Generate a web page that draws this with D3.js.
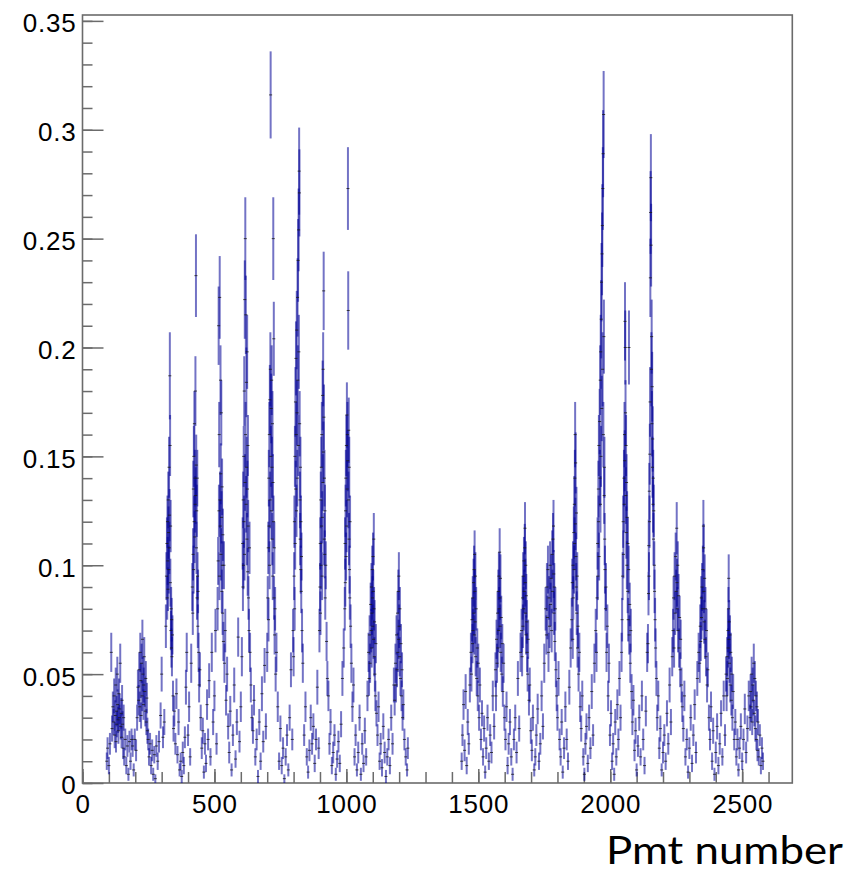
<!DOCTYPE html>
<html>
<head>
<meta charset="utf-8">
<script src="https://cdn.jsdelivr.net/npm/d3@7/dist/d3.min.js"></script>
<style>
  html, body { margin: 0; padding: 0; background: #fff; }
  svg { display: block; }
</style>
</head>
<body>
<svg id="chart" width="851" height="872"></svg>
<script>
// Occupancy per PMT: each ring is a list of [pmt number, occupancy, error]
const ring1 = [[92,.010,.004],[95,.016,.005],[100,.008,.004],[104,.018,.005],[109,.060,.009],[112,.025,.006],[115,.035,.007],[118,.028,.006],[120,.040,.008],[122,.022,.006],[124,.031,.007],[126,.045,.008],[127,.019,.005],[129,.033,.007],[130,.027,.006],[132,.050,.008],[133,.036,.007],[135,.029,.006],[136,.024,.006],[138,.041,.007],[140,.030,.006],[141,.034,.007],[143,.055,.009],[145,.026,.006],[147,.032,.007],[148,.021,.005],[150,.038,.007],[152,.027,.006],[154,.016,.005],[156,.030,.006],[158,.012,.004],[162,.020,.005],[166,.008,.004],[170,.017,.005],[174,.004,.003],[178,.019,.005],[182,.010,.004],[186,.020,.005],[190,.017,.005],[194,.006,.003],[198,.020,.005]];
const ring2 = [[203,.015,.005],[207,.030,.006],[210,.044,.008],[213,.038,.007],[215,.052,.008],[217,.035,.007],[219,.060,.009],[221,.047,.008],[222,.031,.006],[224,.055,.009],[226,.040,.007],[227,.066,.009],[229,.050,.008],[231,.036,.007],[232,.045,.008],[234,.058,.009],[236,.042,.007],[238,.033,.007],[240,.048,.008],[242,.028,.006],[244,.039,.007],[246,.024,.006],[249,.020,.005],[252,.012,.004],[256,.018,.005],[260,.008,.004],[264,.015,.005],[268,.004,.003],[272,.013,.004],[276,.002,.002],[280,.017,.005],[285,.010,.004],[290,.019,.005],[296,.031,.006]];
const ring3 = [[300,.050,.008],[305,.021,.005],[310,.028,.006],[316,.072,.010],[318,.095,.011],[320,.110,.012],[321,.085,.010],[322,.120,.012],[323,.102,.011],[324,.089,.010],[325,.130,.013],[326,.115,.012],[327,.098,.011],[328,.145,.014],[329,.108,.012],[330,.123,.012],[331,.187,.020],[332,.155,.014],[333,.092,.011],[334,.118,.012],[335,.070,.009],[336,.080,.010],[337,.062,.009],[338,.075,.010],[339,.058,.009],[341,.068,.009],[343,.040,.007],[345,.025,.006],[348,.033,.007],[352,.018,.005],[356,.041,.007],[360,.013,.004],[364,.028,.006],[368,.006,.003],[372,.010,.004],[376,.003,.003],[380,.014,.005],[384,.008,.004],[388,.021,.005],[392,.044,.008],[395,.060,.009]];
const ring4 = [[400,.022,.005],[404,.035,.007],[408,.012,.004],[412,.055,.009],[416,.090,.011],[418,.078,.010],[419,.105,.012],[420,.135,.013],[421,.098,.011],[422,.150,.014],[423,.120,.012],[424,.165,.015],[425,.113,.012],[426,.140,.013],[427,.128,.013],[428,.180,.016],[429,.132,.013],[430,.233,.019],[431,.146,.014],[432,.108,.012],[433,.125,.012],[434,.085,.010],[435,.140,.013],[436,.095,.011],[437,.072,.010],[438,.088,.010],[440,.060,.009],[442,.045,.008],[445,.052,.008],[448,.030,.006],[452,.016,.005],[456,.024,.006],[460,.005,.003],[464,.018,.005],[468,.009,.004],[472,.036,.007],[476,.020,.005],[480,.047,.008],[485,.012,.004],[490,.060,.009],[495,.028,.006]];
const ring5 = [[500,.040,.007],[504,.070,.010],[508,.018,.005],[512,.080,.010],[514,.102,.011],[516,.210,.018],[517,.125,.012],[518,.160,.015],[519,.095,.011],[520,.223,.019],[521,.130,.013],[522,.118,.012],[523,.185,.016],[524,.142,.014],[525,.105,.012],[526,.170,.015],[527,.122,.012],[528,.088,.010],[529,.136,.013],[530,.100,.011],[531,.078,.010],[532,.114,.012],[534,.065,.009],[536,.100,.011],[538,.055,.009],[541,.070,.010],[544,.038,.007],[548,.050,.008],[552,.026,.006],[556,.014,.005],[560,.033,.007],[565,.006,.003],[570,.022,.005],[575,.045,.008],[580,.011,.004],[585,.028,.006],[590,.067,.009],[595,.019,.005]];
const ring6 = [[600,.035,.007],[604,.058,.009],[607,.110,.012],[608,.090,.011],[609,.130,.013],[610,.100,.011],[611,.150,.014],[612,.120,.012],[613,.180,.016],[614,.105,.012],[615,.222,.018],[616,.138,.013],[617,.250,.019],[618,.160,.015],[619,.215,.018],[620,.128,.013],[621,.184,.016],[622,.145,.014],[623,.112,.012],[624,.198,.017],[625,.135,.013],[626,.097,.011],[627,.155,.014],[628,.118,.012],[629,.085,.010],[631,.070,.010],[633,.108,.012],[635,.060,.009],[638,.045,.008],[642,.030,.006],[646,.024,.006],[650,.038,.007],[655,.012,.004],[660,.020,.005],[665,.003,.003],[670,.028,.006],[675,.010,.004],[680,.041,.008],[685,.019,.005],[690,.054,.008],[695,.026,.006]];
const ring7 = [[700,.060,.009],[702,.085,.010],[704,.108,.012],[705,.075,.010],[706,.140,.013],[707,.118,.012],[708,.160,.015],[709,.100,.011],[710,.176,.016],[711,.130,.013],[712,.190,.017],[713,.316,.020],[714,.150,.014],[715,.172,.016],[716,.125,.013],[717,.185,.016],[718,.145,.014],[719,.112,.012],[720,.165,.015],[721,.095,.011],[722,.138,.013],[723,.250,.019],[724,.120,.012],[725,.204,.017],[726,.085,.010],[727,.108,.012],[728,.068,.009],[730,.080,.010],[732,.050,.008],[735,.060,.009],[740,.035,.007],[745,.010,.004],[750,.025,.006],[755,.008,.004],[760,.016,.005],[765,.002,.002],[770,.012,.004],[775,.022,.005],[780,.006,.003],[785,.030,.006],[790,.052,.008],[795,.020,.005]];
const ring8 = [[798,.070,.010],[800,.058,.009],[802,.095,.011],[803,.120,.012],[804,.080,.010],[805,.150,.014],[806,.110,.012],[807,.175,.016],[808,.135,.013],[809,.195,.017],[810,.160,.015],[811,.125,.012],[812,.208,.018],[813,.170,.015],[814,.140,.013],[815,.223,.018],[816,.185,.016],[817,.240,.019],[818,.155,.014],[819,.254,.019],[820,.198,.017],[821,.281,.020],[822,.271,.020],[823,.165,.015],[824,.130,.013],[825,.112,.012],[826,.145,.014],[827,.098,.011],[828,.120,.012],[829,.088,.010],[830,.104,.011],[832,.070,.010],[835,.055,.009],[840,.022,.005],[845,.035,.007],[850,.012,.004],[855,.005,.003],[860,.015,.005],[865,.030,.006],[870,.018,.005],[875,.026,.006],[880,.009,.004],[885,.020,.005],[890,.044,.008],[895,.016,.005]];
const ring9 = [[898,.070,.010],[900,.090,.011],[901,.110,.012],[902,.078,.010],[903,.130,.013],[904,.100,.011],[905,.145,.014],[906,.118,.012],[907,.160,.015],[908,.095,.011],[909,.122,.012],[910,.178,.016],[911,.138,.013],[912,.190,.017],[913,.152,.014],[914,.226,.018],[915,.168,.015],[916,.112,.012],[917,.140,.013],[918,.105,.011],[919,.125,.012],[920,.085,.010],[922,.100,.011],[925,.065,.009],[928,.048,.008],[932,.040,.007],[936,.018,.005],[940,.028,.006],[945,.008,.004],[950,.014,.005],[955,.022,.005],[960,.004,.003],[965,.011,.004],[970,.019,.005],[975,.009,.004],[980,.027,.006],[985,.048,.008],[990,.062,.009]];
const ring10 = [[994,.080,.010],[995,.110,.012],[996,.092,.011],[997,.125,.012],[998,.140,.013],[999,.104,.011],[1000,.155,.014],[1001,.118,.012],[1002,.169,.015],[1003,.135,.013],[1004,.160,.015],[1005,.148,.014],[1006,.273,.019],[1007,.217,.018],[1008,.130,.013],[1009,.162,.015],[1010,.112,.012],[1011,.145,.014],[1012,.098,.011],[1013,.085,.010],[1014,.120,.012],[1016,.072,.010],[1019,.055,.009],[1023,.035,.007],[1027,.045,.008],[1031,.012,.004],[1035,.022,.005],[1040,.006,.003],[1045,.014,.005],[1050,.030,.006],[1055,.004,.003],[1060,.018,.005],[1065,.009,.004],[1070,.024,.006],[1075,.012,.004],[1080,.040,.007],[1084,.060,.009]];
const ring11 = [[1086,.048,.008],[1088,.068,.009],[1090,.055,.009],[1092,.082,.010],[1094,.070,.010],[1095,.090,.011],[1096,.062,.009],[1097,.078,.010],[1098,.098,.011],[1099,.085,.010],[1100,.072,.010],[1101,.104,.011],[1102,.088,.010],[1103,.066,.009],[1104,.112,.012],[1105,.080,.010],[1106,.058,.009],[1107,.074,.010],[1108,.050,.008],[1110,.040,.007],[1112,.064,.009],[1114,.032,.006],[1118,.022,.005],[1122,.035,.007],[1126,.010,.004],[1130,.018,.005],[1135,.007,.004],[1140,.026,.006],[1145,.014,.005],[1150,.003,.003],[1155,.012,.004],[1160,.020,.005],[1165,.008,.004],[1170,.030,.006],[1175,.018,.005],[1180,.045,.008]];
const ring12 = [[1183,.038,.007],[1186,.055,.009],[1188,.045,.008],[1190,.068,.009],[1192,.052,.008],[1194,.078,.010],[1195,.060,.009],[1197,.088,.010],[1198,.066,.009],[1199,.095,.011],[1200,.072,.010],[1202,.058,.009],[1203,.080,.010],[1205,.048,.008],[1207,.064,.009],[1209,.040,.007],[1211,.052,.008],[1213,.030,.006],[1216,.036,.007],[1220,.020,.005],[1225,.012,.004],[1230,.006,.003],[1233,.016,.005]];
const ring13 = [[1437,.010,.004],[1440,.022,.005],[1444,.036,.007],[1448,.015,.005],[1452,.042,.008],[1456,.008,.004],[1460,.028,.006],[1464,.018,.005],[1468,.045,.008],[1472,.060,.009],[1474,.050,.008],[1476,.075,.010],[1478,.064,.009],[1479,.085,.010],[1480,.070,.010],[1482,.092,.011],[1483,.078,.010],[1484,.098,.011],[1485,.068,.009],[1486,.105,.011],[1487,.088,.010],[1488,.074,.010],[1489,.095,.011],[1490,.058,.009],[1492,.080,.010],[1494,.048,.008],[1496,.062,.009],[1498,.040,.007],[1500,.055,.009],[1503,.030,.006],[1506,.045,.008],[1510,.020,.005],[1514,.032,.006],[1518,.012,.004],[1522,.025,.006],[1526,.005,.003],[1530,.016,.005],[1535,.030,.006],[1540,.010,.004],[1545,.022,.005],[1550,.014,.005],[1555,.040,.007],[1560,.026,.006]];
const ring14 = [[1565,.052,.008],[1567,.040,.007],[1569,.066,.009],[1571,.055,.009],[1573,.078,.010],[1574,.062,.009],[1576,.088,.010],[1577,.070,.010],[1578,.095,.011],[1579,.080,.010],[1581,.106,.011],[1582,.085,.010],[1583,.072,.010],[1584,.094,.011],[1585,.060,.009],[1587,.076,.010],[1589,.050,.008],[1591,.064,.009],[1593,.042,.007],[1596,.055,.009],[1599,.030,.006],[1603,.020,.005],[1607,.035,.007],[1611,.008,.004],[1615,.018,.005],[1620,.028,.006],[1625,.012,.004],[1630,.004,.003],[1635,.020,.005],[1640,.030,.006],[1645,.014,.005],[1650,.048,.008],[1655,.025,.006],[1660,.060,.009]];
const ring15 = [[1664,.070,.010],[1666,.058,.009],[1668,.085,.010],[1669,.072,.010],[1670,.095,.011],[1672,.080,.010],[1673,.102,.011],[1674,.088,.010],[1676,.108,.011],[1677,.117,.012],[1678,.092,.011],[1679,.078,.010],[1680,.100,.011],[1681,.068,.009],[1682,.086,.010],[1684,.074,.010],[1685,.060,.009],[1687,.050,.008],[1689,.066,.009],[1692,.038,.007],[1695,.045,.008],[1699,.024,.006],[1703,.015,.005],[1707,.030,.006],[1712,.006,.003],[1716,.012,.004],[1720,.022,.005],[1725,.034,.007],[1730,.010,.004],[1735,.018,.005],[1740,.040,.007],[1745,.026,.006],[1750,.055,.009],[1755,.080,.010]];
const ring16 = [[1758,.068,.009],[1760,.090,.011],[1762,.076,.010],[1764,.098,.011],[1766,.060,.009],[1768,.085,.010],[1770,.072,.010],[1772,.100,.011],[1774,.082,.010],[1776,.094,.011],[1778,.070,.010],[1780,.105,.011],[1781,.088,.010],[1783,.112,.012],[1785,.118,.012],[1786,.096,.011],[1787,.078,.010],[1788,.090,.011],[1790,.065,.009],[1792,.080,.010],[1794,.052,.008],[1797,.040,.007],[1800,.030,.006],[1804,.048,.008],[1808,.020,.005],[1812,.012,.004],[1816,.028,.006],[1820,.005,.003],[1825,.016,.005],[1830,.035,.007],[1835,.020,.005],[1840,.010,.004],[1845,.044,.008],[1850,.062,.009]];
const ring17 = [[1854,.075,.010],[1856,.092,.011],[1858,.066,.009],[1859,.100,.011],[1860,.085,.010],[1862,.115,.012],[1863,.098,.011],[1864,.128,.013],[1865,.110,.012],[1866,.140,.013],[1867,.160,.015],[1868,.119,.012],[1869,.147,.014],[1870,.104,.011],[1871,.090,.011],[1872,.124,.012],[1873,.078,.010],[1875,.095,.011],[1876,.062,.009],[1878,.072,.010],[1880,.050,.008],[1883,.060,.009],[1886,.035,.007],[1890,.025,.006],[1894,.040,.007],[1898,.012,.004],[1902,.004,.003],[1906,.018,.005],[1910,.026,.006],[1915,.009,.004],[1920,.030,.006],[1925,.016,.005],[1930,.042,.008],[1935,.022,.005],[1940,.055,.009],[1945,.070,.010]];
const ring18 = [[1948,.060,.009],[1950,.085,.010],[1952,.110,.012],[1953,.095,.011],[1955,.135,.013],[1956,.120,.012],[1957,.155,.014],[1958,.104,.011],[1960,.166,.015],[1961,.140,.013],[1962,.185,.016],[1963,.128,.013],[1964,.198,.017],[1965,.150,.014],[1966,.213,.018],[1967,.230,.018],[1968,.172,.015],[1969,.243,.019],[1970,.256,.019],[1971,.190,.017],[1972,.273,.019],[1973,.289,.020],[1974,.160,.015],[1975,.307,.020],[1976,.205,.017],[1977,.132,.013],[1978,.145,.014],[1979,.112,.012],[1980,.098,.011],[1982,.080,.010],[1984,.090,.011],[1986,.060,.009],[1989,.072,.010],[1992,.040,.007],[1995,.055,.009],[1999,.022,.005],[2003,.032,.006],[2007,.010,.004],[2011,.018,.005],[2015,.004,.003],[2019,.028,.006],[2023,.012,.004],[2027,.036,.007],[2031,.020,.005],[2035,.048,.008],[2039,.030,.006]];
const ring19 = [[2043,.060,.009],[2045,.075,.010],[2047,.095,.011],[2049,.120,.012],[2050,.105,.011],[2052,.140,.013],[2053,.128,.013],[2054,.160,.015],[2055,.148,.014],[2056,.212,.018],[2057,.200,.017],[2058,.170,.015],[2059,.132,.013],[2060,.155,.014],[2061,.115,.012],[2062,.138,.013],[2063,.100,.011],[2064,.122,.012],[2066,.088,.010],[2067,.110,.012],[2068,.075,.010],[2070,.098,.011],[2071,.200,.017],[2072,.068,.009],[2074,.082,.010],[2076,.055,.009],[2078,.070,.010],[2081,.042,.008],[2084,.028,.006],[2088,.038,.007],[2092,.015,.005],[2096,.024,.006],[2100,.006,.003],[2105,.017,.005],[2110,.030,.006],[2115,.012,.004],[2120,.040,.007],[2125,.020,.005],[2130,.008,.004],[2135,.033,.007],[2140,.060,.009]];
const ring20 = [[2143,.064,.009],[2145,.087,.010],[2146,.109,.012],[2147,.095,.011],[2148,.134,.013],[2149,.120,.012],[2150,.151,.014],[2151,.175,.016],[2152,.232,.018],[2153,.262,.019],[2154,.278,.020],[2155,.247,.019],[2156,.190,.017],[2157,.205,.017],[2158,.165,.015],[2159,.182,.016],[2160,.145,.014],[2161,.158,.015],[2162,.128,.013],[2163,.140,.013],[2164,.112,.012],[2165,.125,.012],[2167,.100,.011],[2168,.088,.010],[2170,.075,.010],[2172,.062,.009],[2175,.048,.008],[2178,.030,.006],[2182,.040,.007],[2186,.016,.005],[2190,.025,.006],[2195,.006,.003],[2200,.014,.005],[2205,.022,.005],[2210,.010,.004],[2215,.032,.006],[2220,.018,.005],[2225,.045,.008],[2230,.028,.006],[2235,.058,.009]];
const ring21 = [[2238,.070,.010],[2240,.085,.010],[2242,.062,.009],[2244,.095,.011],[2246,.078,.010],[2248,.104,.011],[2250,.088,.010],[2252,.117,.012],[2253,.092,.011],[2254,.080,.010],[2256,.100,.011],[2257,.070,.010],[2259,.086,.010],[2261,.062,.009],[2263,.076,.010],[2265,.052,.008],[2267,.066,.009],[2270,.045,.008],[2273,.035,.007],[2277,.025,.006],[2281,.040,.007],[2285,.012,.004],[2290,.020,.005],[2295,.005,.003],[2300,.016,.005],[2305,.030,.006],[2310,.009,.004],[2315,.022,.005],[2320,.036,.007],[2325,.014,.005],[2330,.048,.008],[2335,.060,.009]];
const ring22 = [[2339,.055,.009],[2341,.072,.010],[2343,.065,.009],[2345,.085,.010],[2346,.076,.010],[2348,.090,.011],[2350,.080,.010],[2351,.098,.011],[2353,.118,.012],[2354,.108,.011],[2355,.088,.010],[2356,.074,.010],[2358,.094,.011],[2359,.066,.009],[2361,.080,.010],[2363,.058,.009],[2365,.070,.010],[2367,.045,.008],[2370,.052,.008],[2374,.030,.006],[2378,.020,.005],[2382,.035,.007],[2386,.010,.004],[2390,.024,.006],[2395,.004,.003],[2400,.014,.005],[2405,.026,.006],[2410,.008,.004],[2415,.018,.005],[2420,.032,.006],[2425,.012,.004],[2430,.040,.007],[2435,.022,.005],[2439,.050,.008]];
const ring23 = [[2441,.040,.007],[2443,.058,.009],[2444,.048,.008],[2446,.070,.010],[2447,.062,.009],[2448,.080,.010],[2449,.094,.011],[2450,.066,.009],[2451,.074,.010],[2452,.055,.009],[2454,.068,.009],[2455,.045,.008],[2457,.060,.009],[2459,.038,.007],[2461,.050,.008],[2463,.030,.006],[2466,.042,.008],[2470,.020,.005],[2474,.028,.006],[2478,.012,.004],[2482,.020,.005],[2486,.006,.003],[2490,.016,.005],[2495,.026,.006],[2500,.010,.004],[2505,.020,.005],[2510,.034,.007],[2515,.014,.005],[2520,.025,.006],[2525,.040,.007]];
const ring24 = [[2530,.030,.006],[2532,.042,.008],[2534,.035,.007],[2536,.050,.008],[2538,.028,.006],[2540,.045,.008],[2542,.038,.007],[2544,.055,.009],[2546,.032,.006],[2548,.048,.008],[2550,.025,.006],[2552,.040,.007],[2554,.020,.005],[2556,.035,.007],[2558,.015,.005],[2560,.028,.006],[2563,.012,.004],[2567,.022,.005],[2571,.008,.004],[2575,.016,.005],[2579,.010,.004]];

// Axis ticks and labels
const xMajorTicks = [0, 500, 1000, 1500, 2000, 2500];
const xMajorLabels = ["0", "500", "1000", "1500", "2000", "2500"];
const yMajorTicks = [0, 0.05, 0.1, 0.15, 0.2, 0.25, 0.3, 0.35];
const yMajorLabels = ["0", "0.05", "0.1", "0.15", "0.2", "0.25", "0.3", "0.35"];
const xAxisTitle = "Pmt number";
const xDomain = [0, 2690];
const yDomain = [0, 0.3527];

const rings = [ring1, ring2, ring3, ring4, ring5, ring6, ring7, ring8, ring9, ring10, ring11, ring12,
               ring13, ring14, ring15, ring16, ring17, ring18, ring19, ring20, ring21, ring22, ring23, ring24];
const points = rings.flat().map(([pmt, value, error]) => ({ pmt, value, error }));

// Frame geometry
const frame = { left: 82.5, right: 792.3, top: 15, bottom: 783 };
const svg = d3.select("#chart");

const x = d3.scaleLinear().domain(xDomain).range([frame.left, frame.right]);
const y = d3.scaleLinear().domain(yDomain).range([frame.bottom, frame.top]);

const axisColor = "#6b6b6b";
const labelFont = "'Liberation Sans', Arial, Helvetica, sans-serif";

// Minor ticks (no labels)
const xMinor = d3.range(0, 2601, 100);
const yMinor = d3.range(0, 36).map(i => i / 100);

const gxMinor = svg.append("g")
  .attr("transform", `translate(0,${frame.bottom})`)
  .call(d3.axisBottom(x).tickValues(xMinor).tickSize(-11).tickFormat(""));
const gyMinor = svg.append("g")
  .attr("transform", `translate(${frame.left},0)`)
  .call(d3.axisLeft(y).tickValues(yMinor).tickSize(-10).tickFormat(""));

// Major ticks with labels
const gx = svg.append("g")
  .attr("transform", `translate(0,${frame.bottom})`)
  .call(d3.axisBottom(x).tickValues(xMajorTicks).tickSize(-14).tickPadding(12)
    .tickFormat((d, i) => xMajorLabels[i]));
const gy = svg.append("g")
  .attr("transform", `translate(${frame.left},0)`)
  .call(d3.axisLeft(y).tickValues(yMajorTicks).tickSize(-21).tickPadding(6)
    .tickFormat((d, i) => yMajorLabels[i]));

[gxMinor, gyMinor, gx, gy].forEach(g => {
  g.select(".domain").remove();
  g.selectAll(".tick line").attr("stroke", axisColor).attr("stroke-width", 1.5);
});
[gx, gy].forEach(g => {
  g.selectAll(".tick text")
    .attr("fill", "#000")
    .style("font-family", labelFont)
    .style("font-size", "26px")
    .style("letter-spacing", "0.8px");
});
gy.selectAll(".tick text").attr("dy", "0.42em");
gx.selectAll(".tick text").attr("dy", "0.71em");

// Frame box
svg.append("rect")
  .attr("x", frame.left).attr("y", frame.top)
  .attr("width", frame.right - frame.left)
  .attr("height", frame.bottom - frame.top)
  .attr("fill", "none")
  .attr("stroke", axisColor)
  .attr("stroke-width", 1.6);

// Error bars and point markers
const plot = svg.append("g");
plot.selectAll("line.err")
  .data(points)
  .join("line")
  .attr("class", "err")
  .attr("x1", d => x(d.pmt)).attr("x2", d => x(d.pmt))
  .attr("y1", d => y(Math.max(0, d.value - d.error)))
  .attr("y2", d => y(d.value + d.error))
  .attr("stroke", "#000096")
  .attr("stroke-opacity", 0.55)
  .attr("stroke-width", 2);

plot.selectAll("line.mark")
  .data(points)
  .join("line")
  .attr("class", "mark")
  .attr("x1", d => x(d.pmt) - 1.5).attr("x2", d => x(d.pmt) + 1.5)
  .attr("y1", d => y(d.value)).attr("y2", d => y(d.value))
  .attr("stroke", "#1a1a1a")
  .attr("stroke-opacity", 0.8)
  .attr("stroke-width", 1);

// Axis title
svg.append("text")
  .attr("x", 606).attr("y", 864)
  .attr("textLength", 237)
  .attr("lengthAdjust", "spacingAndGlyphs")
  .style("font-family", "Lato, 'Open Sans', 'Noto Sans', sans-serif")
  .style("font-size", "38px")
  .attr("fill", "#000")
  .text(xAxisTitle);
</script>
</body>
</html>
